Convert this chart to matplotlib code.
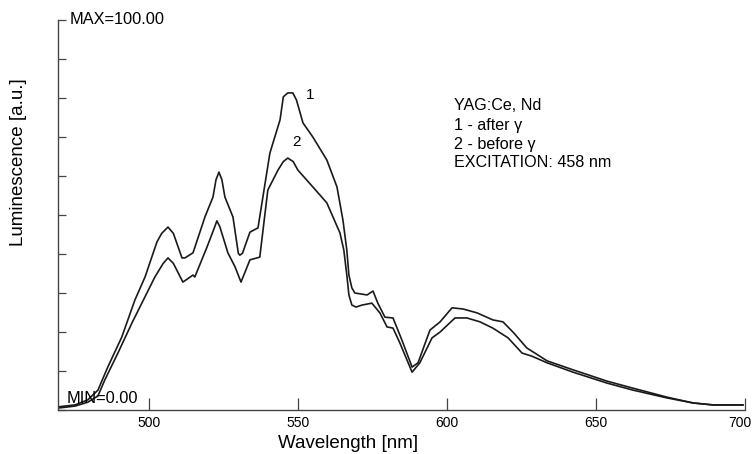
import matplotlib
matplotlib.use("Agg")
import matplotlib.pyplot as plt
import matplotlib.transforms as mtransforms

plt.rcParams['font.family'] = ['Liberation Sans', 'DejaVu Sans']

# Curve 1 - after gamma
wl1 = [469.5, 475.2, 479.5, 482.9, 486.2, 490.9, 495.3, 498.7, 502.7, 504.3,
       506.4, 508.2, 511.1, 512.1, 514.8, 518.8, 521.5, 522.5, 523.5, 524.5,
       525.5, 528.2, 530.0, 530.5, 531.4, 533.9, 536.6, 540.6, 544.0, 545.1,
       546.6, 548.3, 549.5, 551.7, 555.0, 559.7, 563.1, 565.1, 566.4, 567.1,
       568.1, 569.1, 573.2, 575.2, 576.8, 579.2, 581.9, 584.9, 588.3, 590.3,
       594.3, 597.7, 601.7, 605.4, 610.1, 615.4, 618.8, 622.5, 626.8, 629.5,
       633.6, 642.3, 653.7, 662.4, 673.8, 682.6, 689.3, 699.3]
lum1 = [0.8, 1.3, 2.6, 5.1, 11.0, 18.7, 28.2, 34.1, 43.1, 45.3,
        46.9, 45.3, 39.0, 39.0, 40.3, 49.5, 54.6, 59.0, 61.0, 59.0,
        54.6, 49.5, 40.2, 39.7, 40.2, 45.6, 46.7, 65.9, 74.4, 80.3,
        81.3, 81.3, 79.5, 73.6, 70.0, 64.1, 57.2, 48.7, 41.0, 34.6,
        31.3, 30.0, 29.5, 30.5, 27.4, 23.8, 23.6, 17.9, 11.0, 12.1,
        20.5, 22.6, 26.2, 25.9, 24.9, 23.1, 22.6, 19.7, 15.9, 14.6,
        12.6, 10.3, 7.4, 5.6, 3.3, 1.8, 1.3, 1.3]

# Curve 2 - before gamma
wl2 = [469.5, 475.2, 479.5, 482.9, 485.2, 489.6, 494.3, 502.0, 504.8, 506.4,
       508.2, 511.4, 514.8, 515.4, 519.5, 522.1, 522.8, 523.8, 526.5, 528.9,
       530.9, 533.9, 537.2, 539.9, 543.3, 545.1, 546.6, 548.4, 550.0, 555.0,
       559.7, 564.1, 565.4, 566.4, 567.1, 568.1, 569.5, 571.5, 574.8, 577.5,
       579.9, 581.9, 584.2, 588.3, 590.9, 595.0, 597.7, 602.7, 606.7, 611.1,
       615.4, 620.5, 625.2, 628.5, 633.6, 642.3, 653.7, 662.4, 673.8, 682.6,
       689.3, 699.3]
lum2 = [0.5, 1.0, 2.0, 3.6, 7.7, 14.6, 22.3, 34.1, 37.6, 39.0,
        37.6, 32.8, 34.6, 34.1, 41.8, 47.0, 48.5, 47.0, 40.3, 36.7,
        32.8, 38.5, 39.2, 56.4, 61.5, 63.7, 64.6, 63.7, 61.5, 57.2,
        53.1, 45.4, 41.0, 34.6, 29.5, 26.9, 26.4, 26.9, 27.4, 24.9,
        21.3, 21.0, 17.2, 9.7, 12.1, 18.5, 20.0, 23.6, 23.6, 22.6,
        21.0, 18.5, 14.6, 13.8, 12.1, 9.7, 6.9, 5.1, 3.1, 1.8,
        1.3, 1.3]

xticks = [500, 550, 600, 650, 700]
yticks = [0, 10, 20, 30, 40, 50, 60, 70, 80, 90, 100]
legend_lines = ['YAG:Ce, Nd', '1 - after \u03b3', '2 - before \u03b3',
                'EXCITATION: 458 nm']

W, H = 754, 454
fig = plt.figure(figsize=(W / 100, H / 100), dpi=100)
ax = fig.add_axes([58 / W, 44 / H, 687 / W, 390 / H])

col = '#1a1a1a'
ax.plot(wl1, lum1, color=col, lw=1.2)
ax.plot(wl2, lum2, color=col, lw=1.2)

ax.set_xlim(469.5, 700)
ax.set_ylim(0, 100)
for s in ['top', 'right']:
    ax.spines[s].set_visible(False)
for s in ['left', 'bottom']:
    ax.spines[s].set_color('#444444')
    ax.spines[s].set_linewidth(1.0)

ax.set_xticks(xticks)
ax.set_xticklabels([str(t) for t in xticks])
ax.set_yticks(yticks)
ax.set_yticklabels([])
ax.tick_params(axis='x', direction='in', length=8.5, width=0.9, color='#444444',
               labelsize=10, pad=4)
ax.tick_params(axis='y', direction='in', length=6, width=0.9, color='#444444')

# shift the last tick label slightly left so it stays inside the figure
last = ax.get_xticklabels()[-1]
last.set_transform(last.get_transform() +
                   mtransforms.ScaledTranslation(-3.5 / 72, 0, fig.dpi_scale_trans))

fig.text(348 / W, 1 - 448.3 / H, 'Wavelength [nm]', fontsize=13.5,
         ha='center', va='baseline')
fig.text(19 / W, 1 - 162 / H, 'Luminescence [a.u.]', fontsize=13.5,
         ha='center', va='center', rotation=90)

ax.text(473.5, 99.1, 'MAX=100.00', fontsize=11.8, ha='left', va='baseline')
ax.text(472.3, 1.7, 'MIN=0.00', fontsize=11.8, ha='left', va='baseline')

ax.text(554.0, 80.8, '1', fontsize=11, ha='center', va='center')
ax.text(549.6, 68.8, '2', fontsize=11, ha='center', va='center')

legend_y = [76.8, 71.8, 66.9, 62.4]
for txt, yy in zip(legend_lines, legend_y):
    ax.text(602.3, yy, txt, fontsize=11.6, ha='left', va='baseline')

fig.savefig('out.png', dpi=100)
